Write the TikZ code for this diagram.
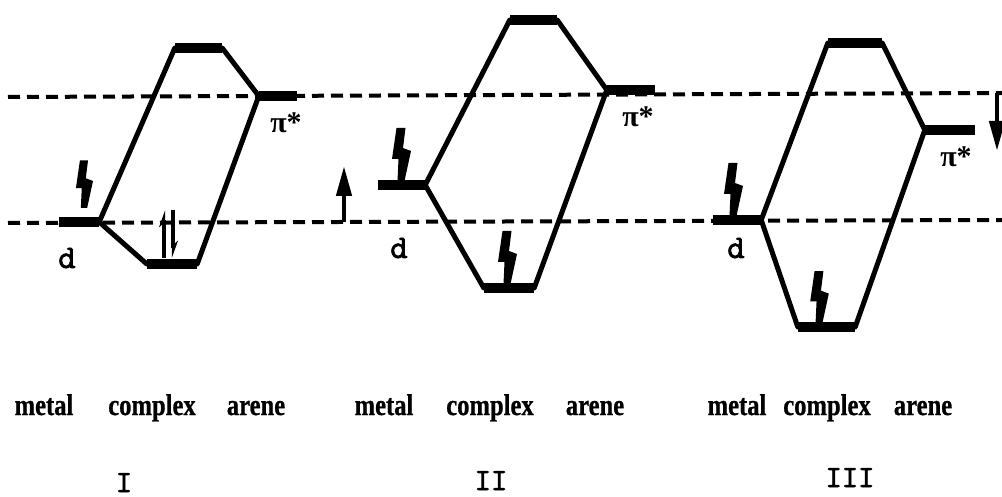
\documentclass[tikz,border=0pt]{standalone}
\usepackage{fontspec}
\setmainfont{Liberation Serif}
\newfontfamily\wordfont[FakeStretch=0.82,FakeBold=0.8]{Liberation Serif}
\newfontfamily\monob[FakeBold=2]{lmmono10-regular.otf}
\usetikzlibrary{arrows.meta}
\newcommand\elecup[3]{%
  \fill[shift={(#1,#2)},scale=#3] (-4.5,-53) -- (4.5,-53) -- (2,-33) -- (10,-30) -- (3.5,0) -- (-3.5,0) -- (-2.5,-22) -- (-9,-22) -- cycle;}
\begin{document}
\begin{tikzpicture}[x=1pt,y=-1pt,
  orb/.style={fill=black,inner sep=0pt,minimum height=9.5pt,minimum width=#1},
  link/.style={line width=5pt,line cap=round,line join=round},
  guide/.style={line width=4pt,dash pattern=on 12pt off 7pt},
  word/.style={font=\wordfont\bfseries\fontsize{30}{34}\selectfont,inner sep=0pt,anchor=base},
  lab/.style={font=\monob\fontsize{33}{36}\selectfont,inner sep=0pt,anchor=base},
  numl/.style={font=\monob\fontsize{31}{34}\selectfont,inner sep=0pt,anchor=base},
  pist/.style={font=\bfseries\fontsize{30}{34}\selectfont,inner sep=0pt,anchor=base},
  spin/.style={line width=4.5pt,-{Triangle[length=30pt,width=15pt]}},
  harp/.style={line width=3.5pt,-{Stealth[harpoon,length=14pt,width=10pt]}}]
\useasboundingbox (0,0) rectangle (1002,497);
% guide lines
\coordinate (ga) at (8,97); \coordinate (gb) at (1002,93);
\coordinate (gc) at (8,223); \coordinate (gd) at (1002,220);
\draw[guide] (ga) -- (gb);
\draw[guide] (gc) -- (gd);
% diagram I
\node[orb=40pt] (dI) at (79,222) {};
\node[orb=47pt] (tI) at (198.5,48) {};
\node[orb=38pt] (pI) at (278,96) {};
\node[orb=50pt] (bI) at (172,264) {};
\draw[link] (dI.east) -- (tI.west);
\draw[link] (tI.east) -- (pI.west);
\draw[link] (dI.east) -- (bI.west);
\draw[link] (bI.east) -- (pI.west);
% diagram II
\node[orb=47pt] (dII) at (401.5,185) {};
\node[orb=47pt] (tII) at (533.5,20) {};
\node[orb=48pt] (pII) at (631,90) {};
\node[orb=50pt] (bII) at (509,288) {};
\draw[link] (dII.east) -- (tII.west);
\draw[link] (tII.east) -- (pII.west);
\draw[link] (dII.east) -- (bII.west);
\draw[link] (bII.east) -- (pII.west);
% diagram III
\node[orb=48pt] (dIII) at (737,220) {};
\node[orb=54pt] (tIII) at (855,43) {};
\node[orb=50pt] (pIII) at (950,130) {};
\node[orb=57pt] (bIII) at (826.5,327) {};
\draw[link] (dIII.east) -- (tIII.west);
\draw[link] (tIII.east) -- (pIII.west);
\draw[link] (dIII.east) -- (bIII.west);
\draw[link] (bIII.east) -- (pIII.west);
% electrons
\elecup{84}{208}{0.9}
\coordinate (hIa) at (164,258); \coordinate (hIb) at (164,210);
\coordinate (hIc) at (173,210); \coordinate (hId) at (173,258);
\draw[harp] (hIa) -- (hIb);
\draw[harp] (hIc) -- (hId);
\elecup{401}{181}{1.0}
\elecup{507}{284}{1.0}
\elecup{733}{216}{1.0}
\elecup{819}{323}{0.98}
% free spin arrows
\coordinate (sa) at (344,222); \coordinate (sb) at (344,166);
\draw[spin] (sa) -- (sb);
\coordinate (sc) at (997,93); \coordinate (sd) at (997,151);
\draw[spin] (sc) -- (sd);
% level labels
\node[lab] (ldI) at (67,268) {d};
\node[lab] (ldII) at (399,258) {d};
\node[lab] (ldIII) at (736,258) {d};
\node[pist] (lpI) at (286,133) {π*};
\node[pist] (lpII) at (638,127) {π*};
\node[pist] (lpIII) at (956,167) {π*};
% axis words
\node[word] (m1) at (44,415) {metal};
\node[word] (c1) at (152,415) {complex};
\node[word] (a1) at (256,415) {arene};
\node[word] (m2) at (384,415) {metal};
\node[word] (c2) at (490,415) {complex};
\node[word] (a2) at (595,415) {arene};
\node[word] (m3) at (737,415) {metal};
\node[word] (c3) at (827,415) {complex};
\node[word] (a3) at (923,415) {arene};
% numerals
\node[numl] (nI) at (124,492) {I};
\node[numl] (nII) at (491,490) {II};
\node[numl] (nIII) at (850,487) {III};
\end{tikzpicture}
\end{document}
